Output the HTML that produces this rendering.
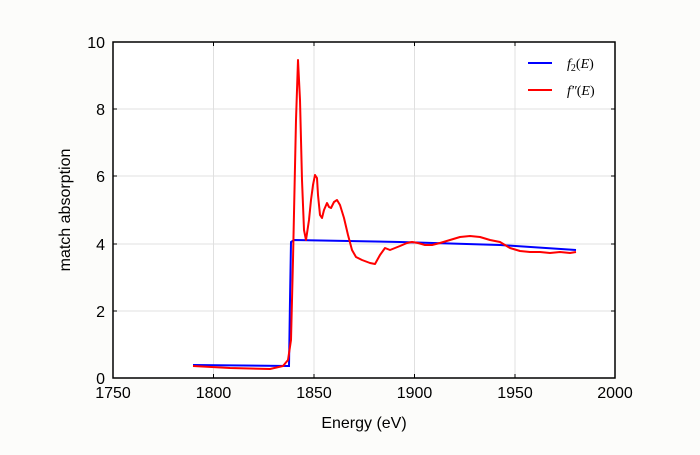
<!DOCTYPE html>
<html><head><style>body{margin:0;background:#fcfcfa}</style></head><body>
<svg width="700" height="450" xmlns="http://www.w3.org/2000/svg" font-family="Liberation Sans, sans-serif">
<rect width="700" height="450" fill="#fcfcfa"/>
<rect x="113" y="42" width="502" height="336" fill="#fff"/>
<g stroke="#e0e0e0" stroke-width="1">
<line x1="213.5" y1="42" x2="213.5" y2="378"/><line x1="314" y1="42" x2="314" y2="378"/><line x1="414.5" y1="42" x2="414.5" y2="378"/><line x1="515" y1="42" x2="515" y2="378"/>
<line x1="113" y1="311" x2="615" y2="311"/><line x1="113" y1="244" x2="615" y2="244"/><line x1="113" y1="176" x2="615" y2="176"/><line x1="113" y1="109" x2="615" y2="109"/>
</g>
<polyline fill="none" stroke="#0000ff" stroke-width="2" points="193,365 289,366 290,300 291,242 294,240 400,242 500,245 576,250"/>
<polyline fill="none" stroke="#ff0000" stroke-width="2" stroke-linejoin="round" points="193,366 230,368 270,369 283,366 288,360 291,340 293,260 296,120 298,60 300,100 302,180 304,230 306,240 309,220 311,200 313,185 315,175 317,178 318,195 320,215 322,218 324,210 327,203 329,207 331,208 334,202 337,200 340,205 344,218 348,235 352,250 356,257 362,260 370,263 375,264 380,255 385,248 390,250 395,248 400,246 407,243 412,242 418,243 425,245 432,245 440,243 450,240 460,237 470,236 480,237 490,240 500,242 510,248 520,251 530,252 540,252 550,253 560,252 570,253 576,252"/>
<rect x="113" y="42" width="502" height="336" fill="none" stroke="#000" stroke-width="1.5"/>
<g stroke="#000" stroke-width="1">
<line x1="213.5" y1="42" x2="213.5" y2="46"/><line x1="314" y1="42" x2="314" y2="46"/><line x1="414.5" y1="42" x2="414.5" y2="46"/><line x1="515" y1="42" x2="515" y2="46"/>
<line x1="213.5" y1="378" x2="213.5" y2="374"/><line x1="314" y1="378" x2="314" y2="374"/><line x1="414.5" y1="378" x2="414.5" y2="374"/><line x1="515" y1="378" x2="515" y2="374"/>
<line x1="113" y1="311" x2="117" y2="311"/><line x1="113" y1="244" x2="117" y2="244"/><line x1="113" y1="176" x2="117" y2="176"/><line x1="113" y1="109" x2="117" y2="109"/>
<line x1="615" y1="311" x2="611" y2="311"/><line x1="615" y1="244" x2="611" y2="244"/><line x1="615" y1="176" x2="611" y2="176"/><line x1="615" y1="109" x2="611" y2="109"/>
</g>
<g font-size="16" text-anchor="middle">
<text x="113" y="398">1750</text><text x="213.5" y="398">1800</text><text x="314" y="398">1850</text><text x="414.5" y="398">1900</text><text x="515" y="398">1950</text><text x="615" y="398">2000</text>
</g>
<g font-size="16" text-anchor="end">
<text x="105" y="384">0</text><text x="105" y="317">2</text><text x="105" y="250">4</text><text x="105" y="182">6</text><text x="105" y="115">8</text><text x="105" y="48">10</text>
</g>
<text x="364" y="428" font-size="16" text-anchor="middle">Energy (eV)</text>
<text transform="translate(70,210) rotate(-90)" font-size="16" text-anchor="middle">match absorption</text>
<line x1="528" y1="63" x2="552" y2="63" stroke="#0000ff" stroke-width="2"/>
<line x1="528" y1="90" x2="552" y2="90" stroke="#ff0000" stroke-width="2"/>
<g font-family="Liberation Serif, serif" font-size="14" font-style="italic">
<text x="567" y="68">f<tspan font-size="10" dy="3" font-style="normal">2</tspan><tspan dy="-3" font-style="normal">(</tspan>E<tspan font-style="normal">)</tspan></text>
<text x="567" y="95">f″<tspan font-style="normal">(</tspan>E<tspan font-style="normal">)</tspan></text>
</g>
</svg>
</body></html>
